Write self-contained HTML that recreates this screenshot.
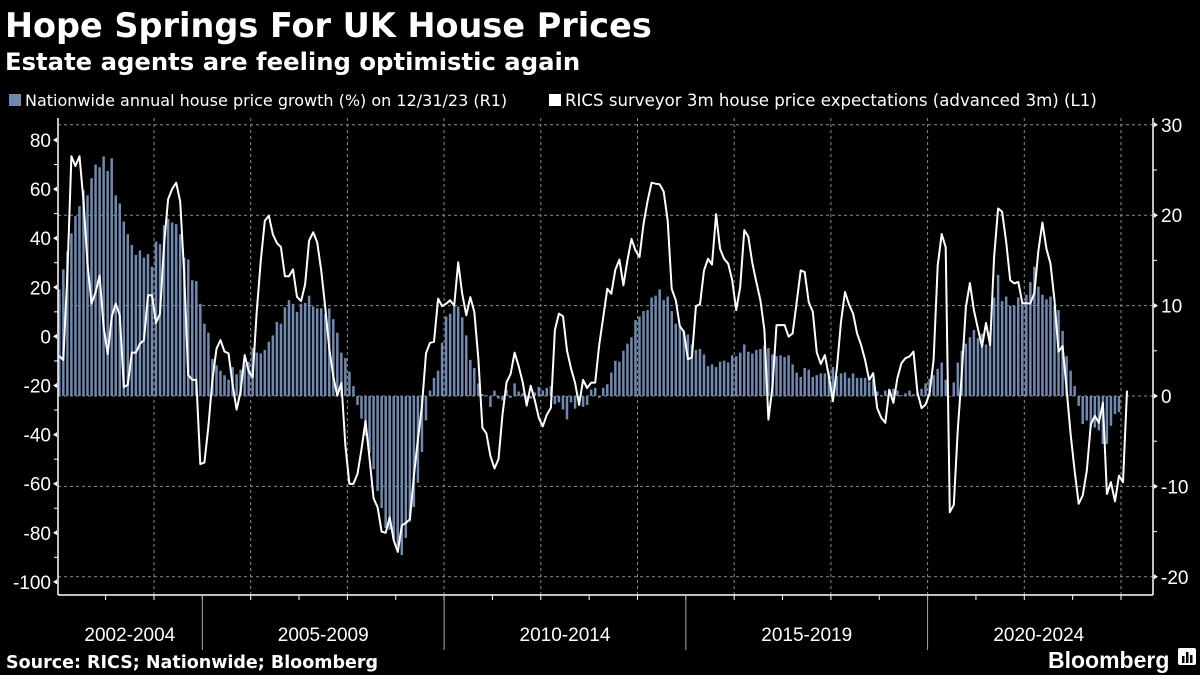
<!DOCTYPE html>
<html><head><meta charset="utf-8">
<style>
html,body{margin:0;padding:0;background:#000;width:1200px;height:675px;overflow:hidden}
text{font-family:"Liberation Sans","DejaVu Sans",sans-serif}
</style></head>
<body>
<svg id="chart" width="1200" height="675" viewBox="0 0 1200 675" xmlns="http://www.w3.org/2000/svg">
<rect width="1200" height="675" fill="#000"/>
<text x="5" y="37" fill="#fff" font-size="33.5" font-weight="bold" style="font-family:'DejaVu Sans',sans-serif">Hope Springs For UK House Prices</text>
<text x="5" y="70" fill="#fff" font-size="24.3" font-weight="bold" style="font-family:'DejaVu Sans',sans-serif">Estate agents are feeling optimistic again</text>
<g>
 <g>
  <rect x="9" y="94" width="12" height="12" fill="#7089b0"/>
  <text x="25" y="106" fill="#fff" font-size="16" style="font-family:'DejaVu Sans',sans-serif">Nationwide annual house price growth (%) on 12/31/23 (R1)</text>
 </g>
 <g>
  <rect x="549" y="94" width="12" height="12" fill="#fff"/>
  <text x="565" y="106" fill="#fff" font-size="16.6" style="font-family:'DejaVu Sans',sans-serif">RICS surveyor 3m house price expectations (advanced 3m) (L1)</text>
 </g>
</g>
<g id="grid"></g>
<g id="bars"></g>
<g id="line"></g>
<g id="axes"></g>
<text x="6" y="668" fill="#fff" font-size="17.5" font-weight="bold" style="font-family:'DejaVu Sans',sans-serif">Source: RICS; Nationwide; Bloomberg</text>
<g>
 <text x="1048" y="668" fill="#fff" font-size="23" font-weight="bold">Bloomberg</text>
 <rect x="1178" y="648" width="18" height="17" rx="2" fill="#fff"/>
 <rect x="1182" y="656" width="2.5" height="7" fill="#000"/>
 <rect x="1186" y="652" width="2.5" height="11" fill="#000"/>
 <rect x="1190" y="655" width="2.5" height="8" fill="#000"/>
</g>
</svg>
<script>
// Nationwide annual growth (%), monthly Jan 2002 - Dec 2023 (right axis)
const nationwide = [
11.8,14,16,18,19.9,21,22.8,22.2,24.1,25.6,25.3,26.5,
24.9,26.3,22.2,21.3,19.3,17.9,16.7,15.6,16.1,15.3,15.7,14.3,
17.1,16.8,18.9,19.6,19.2,19,17.9,15.3,15.1,12.8,12.7,10.2,
8,7,4.1,3.4,2.8,2.3,1.8,3.2,2.4,2.9,3.5,3.8,
5.3,4.8,4.7,5.1,6,6.7,8.2,8,9.8,10.6,10.2,9.3,
10.2,10.3,11.1,9.9,9.7,9.7,9.1,9.7,8.5,7,4.8,4.2,
2.7,1.1,-1,-2.5,-4.4,-6.3,-8.1,-10.5,-12.4,-14.6,-14.8,-15.9,
-16.6,-17.6,-15.7,-13.9,-12.3,-9.6,-6.2,-2.7,0.6,2,2.8,5.9,
8.8,9.1,10,9.9,8.7,6.7,4,3.1,1.4,0.2,0.1,-1.2,
0.6,-0.3,-0.5,0.7,-0.2,1.4,0.5,0.3,-1,-0.3,0.4,1,
0.6,0.9,1.1,-0.9,-0.7,-1.5,-2.6,-0.7,-1.4,-1.1,-1.2,-1,
0.7,0.9,-0.2,0.9,1.3,2.6,3.9,3.8,5,5.8,6.5,8.4,
8.8,9.4,9.5,10.9,11.1,11.8,10.6,11,9.4,8,7.8,7.2,
6.8,5.7,5.1,5.2,4.6,3.3,3.5,3.2,3.8,3.9,3.7,4.5,
4.4,4.8,5.7,4.9,4.7,5.1,5.2,5.6,5.3,4.6,4.4,4.5,
4.3,4.5,3.5,2.6,2.1,3.1,2.9,2.1,2.3,2.5,2.5,2.6,
3.2,2.2,2.5,2.6,2,2.5,2,2,2,1.6,1.9,0.5,
0.1,0.6,0.7,0.8,0.6,0.1,0.3,0.6,0.2,0.4,0.8,1.4,
1.9,2.3,3,3.7,1.8,-0.1,1.5,3.7,5,5.8,6.5,7.3,
6.4,6.9,5.7,7.1,10.9,13.4,10.5,11,10,10,10.9,10.4,
11.2,12.6,14.3,12.1,11.2,10.7,11,10,9.5,7.2,4.4,2.8,
1.1,-1.1,-3.1,-2.7,-3.4,-3.5,-3.8,-5.3,-5.3,-3.3,-2,-1.8
];
// RICS 3m price expectations (advanced 3m), monthly from Jan 2002 (left axis)
const rics = [
-8,-9.6,25.5,73.4,69.4,73.4,55.2,29.6,13.3,18,24.8,3.9,
-7.2,8,13.3,8.6,-20.6,-19.7,-6.6,-6.6,-3,-1.5,16.8,16.8,
5.5,9.3,37.6,55.9,60,62.6,54.9,25.5,-15.7,-17.7,-17.7,-52,
-51.4,-36.6,-17.7,-5,-1.5,-6.2,-6.9,-19.7,-29.8,-22.4,-7.6,-14.3,
-16.6,10,30.9,47.1,49.2,41.5,38,36.4,24.5,24.5,27.3,16.1,
14.4,21.2,39,42.4,38.3,26.9,12,-5,-16.3,-24.1,-19,-44.6,
-60.1,-60.1,-56,-46,-34.5,-50,-66,-69.6,-79.5,-80,-73.7,-83,
-87.8,-77,-76,-74.4,-56.8,-42,-28.5,-6.9,-2.6,-2.2,15.4,12.3,
13.3,14.7,12.5,30.2,17.4,8.6,16,10,-8.9,-37.2,-39.5,-48.7,
-53.8,-50,-31.8,-18.6,-15.4,-6.6,-12,-18.7,-28.2,-20.1,-26,-33.2,
-36.6,-31.9,-29.1,2.6,9.3,8.2,-5.8,-13,-18.8,-27.8,-17.7,-21,
-18.8,-18.8,-3.5,8,19.4,17.4,27.1,31.3,20.8,30.9,39.7,35,
32.3,45.7,55.2,62.6,62.2,61.9,59,47.1,19.4,14.7,4.2,1.9,
-9.3,-8.6,12.3,13.1,26.9,31.6,29.3,49.8,35.6,31.6,29.6,22.9,
10.7,20.1,43.3,40.6,30,22,14.7,2.6,-33.9,-20.4,4.6,4.6,
4.6,-0.1,1.2,14,26.9,26.2,14,10,-6.6,-11.2,-7.6,-16.3,
-26.4,-12.9,6,18.1,13,9.3,1.2,-3.5,-9.6,-17.7,-15,-29.2,
-33.2,-35.2,-21.7,-27.1,-17,-10.9,-8.9,-8.2,-6.2,-23,-29.2,-27.8,
-23,-9.6,28.9,41.7,36.3,-71.6,-68.6,-37.9,-14.9,12,21.7,10.7,
3,-4.2,5.5,-3.5,32.3,52.1,50.8,38.4,22.9,21.6,22.2,13.6,
13.5,13.4,17.7,35,46.4,35.6,29.6,14.7,-6.2,-3.9,-21.5,-39.7,
-55,-68.2,-64.8,-54.7,-35.9,-32.4,-35.2,-27.1,-64.2,-59.4,-67.2,-56.7,
-59.4,-22.1
];
const leftTicks = [80,60,40,20,0,-20,-40,-60,-80,-100];
const rightTicks = [30,20,10,0,-10,-20];
const periodLabels = ["2002-2004","2005-2009","2010-2014","2015-2019","2020-2024"];
const periodStarts = [2002,2005,2010,2015,2020];
const periodEnds = [2005,2010,2015,2020,2024.6];

const NS = "http://www.w3.org/2000/svg";
const X0 = 58, X1 = 1153, YT = 118, YB = 595;
function xYear(y){ return 57.3 + (y-2002)*48.35; }
function xMonth(i){ return xYear(2002 + (i+0.5)/12); }
function yLeft(v){ return 336.4 - v*2.455; }
function yRight(v){ return 396 - v*9.04; }
function mk(tag, attrs, parent){
  const e = document.createElementNS(NS, tag);
  for (const k in attrs) e.setAttribute(k, attrs[k]);
  parent.appendChild(e); return e;
}
const grid = document.getElementById('grid');
const axes = document.getElementById('axes');
const barsG = document.getElementById('bars');
const lineG = document.getElementById('line');

rightTicks.forEach(t => {
  const l = mk('line',{x1:X0,x2:X1,y1:yRight(t),y2:yRight(t),stroke:'#8a8a8a','stroke-width':1,'stroke-dasharray':'3,3'},grid);
  
  
});
for (let y=2004; y<=2024; y+=2){
  const l = mk('line',{x1:xYear(y),x2:xYear(y),y1:YT,y2:YB,stroke:'#8a8a8a','stroke-width':1,'stroke-dasharray':'3,3'},grid);
  
  
}

nationwide.forEach((v,i) => {
  const x = xMonth(i), y0 = yRight(0), y1 = yRight(v);
  const r = mk('rect',{x:x-1.25,width:2.5,y:Math.min(y0,y1),height:Math.max(0.5,Math.abs(y1-y0)),fill:'#7089b0'},barsG);
  
  
});

const pts = rics.map((v,i)=> xMonth(i).toFixed(1)+','+yLeft(v).toFixed(1)).join(' ');
const pl = mk('polyline',{points:pts,fill:'none',stroke:'#fff','stroke-width':2,'stroke-linejoin':'round'},lineG);



let a = mk('line',{x1:X0,x2:X0,y1:YT,y2:YB,stroke:'#fff','stroke-width':1.5},axes);


a = mk('line',{x1:X1,x2:X1,y1:YT,y2:YB,stroke:'#fff','stroke-width':1.5},axes);


a = mk('line',{x1:X0,x2:X1,y1:YB,y2:YB,stroke:'#fff','stroke-width':1.5},axes);



leftTicks.forEach(t => {
  const y = yLeft(t);
  mk('polygon',{points:`${X0-1},${y-2.5} ${X0-1},${y+2.5} ${X0-5},${y}`,fill:'#fff'},axes);
  const ym = yLeft(t-10);
  if (ym > YT && ym < YB) mk('line',{x1:X0-4,x2:X0,y1:ym,y2:ym,stroke:'#fff'},axes);
  const tx = mk('text',{x:X0-7,y:y+7,fill:'#fff','font-size':19,'text-anchor':'end'},axes);
  tx.textContent = t;
  
  
});
rightTicks.forEach(t => {
  const y = yRight(t);
  mk('polygon',{points:`${X1+1},${y-2.5} ${X1+1},${y+2.5} ${X1+5},${y}`,fill:'#fff'},axes);
  const ym = yRight(t+5);
  if (ym > YT && ym < YB) mk('line',{x1:X1,x2:X1+4,y1:ym,y2:ym,stroke:'#fff'},axes);
  const tx = mk('text',{x:X1+8,y:y+7,fill:'#fff','font-size':19},axes);
  tx.textContent = t;
  
  
});
for (let y=2003; y<=2024; y++){
  mk('line',{x1:xYear(y),x2:xYear(y),y1:YB,y2:YB+5,stroke:'#fff'},axes);
}
periodLabels.forEach((lab,k) => {
  if (k>0){
    const s = mk('line',{x1:xYear(periodStarts[k]),x2:xYear(periodStarts[k]),y1:YB,y2:YB+55,stroke:'#aaa','stroke-width':1},axes);
    
    
  }
  const cx = (xYear(periodStarts[k]) + Math.min(xYear(periodEnds[k]), X1)) / 2;
  const tx = mk('text',{x:cx,y:641,fill:'#fff','font-size':19,'text-anchor':'middle'},axes);
  tx.textContent = lab;
  
  
});
</script>
</body></html>
